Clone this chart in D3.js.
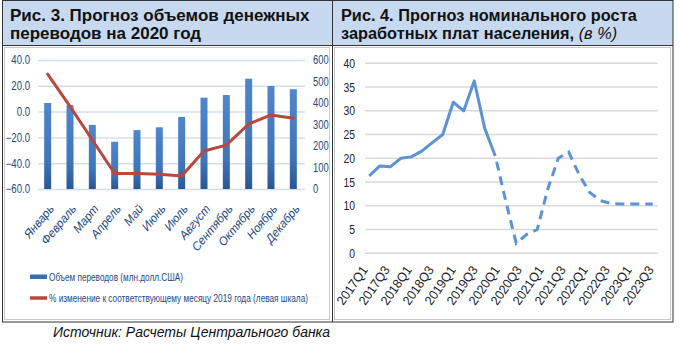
<!DOCTYPE html>
<html><head><meta charset="utf-8">
<script src="https://cdn.jsdelivr.net/npm/d3@7"></script>
<style>
html,body{margin:0;padding:0;background:#fff;}
svg{display:block;}
</style></head>
<body>
<script>
// ---- Data ----
const months = ["Январь","Февраль","Март","Апрель","Май","Июнь","Июль","Август","Сентябрь","Октябрь","Ноябрь","Декабрь"];
const transferVolume = [400, 390, 298, 220, 274, 287, 335, 425, 437, 513, 479, 464]; // млн.долл.США (right axis)
const changePct = [29, 4, -22, -48, -48, -48.5, -50, -30.5, -26, -9.6, -2.6, -5.2]; // % (left axis)
const leftTicks = [-60, -40, -20, 0, 20, 40];
const rightTicks = [0, 100, 200, 300, 400, 500, 600];

const quarters = [];
for (let y = 2017; y <= 2023; y++) for (let q = 1; q <= 4; q++) quarters.push(y + "Q" + q);
const wageGrowth = [16.3, 18.4, 18.2, 20.0, 20.3, 21.5, 23.3, 25.0, 31.8, 30.0, 36.3, 26.3, 20.5,
                    11.0, 2.1, 4.0, 5.0, 13.5, 20.0, 21.3, 16.5, 12.8, 11.1, 10.5, 10.4, 10.4, 10.4, 10.4];
const forecastStart = "2020Q1";
const wageTicks = [0, 5, 10, 15, 20, 25, 30, 35, 40];
const quarterLabels = quarters.filter((d, i) => i % 2 === 0);

const titleLeft = ["Рис. 3. Прогноз объемов денежных", "переводов на 2020 год"];
const titleRight1 = "Рис. 4. Прогноз номинального роста";
const titleRight2a = "заработных плат населения, ";
const titleRight2b = "(в %)";
const legendLabels = ["Объем переводов (млн.долл.США)", "% изменение к соответствующему месяцу 2019 года (левая шкала)"];
const sourceText = "Источник: Расчеты Центрального банка";

// ---- SVG ----
const W = 680, H = 344;
const svg = d3.select("body").append("svg").attr("width", W).attr("height", H);
const sans = "'Liberation Sans',Arial,sans-serif";
const navy = "#24487e";

// condense text horizontally (imitating a narrow font)
function condense(sel, f) {
  sel.each(function () {
    const L = this.getComputedTextLength();
    d3.select(this).attr("textLength", L * f).attr("lengthAdjust", "spacingAndGlyphs");
  });
}

const defs = svg.append("defs");
const grad = defs.append("linearGradient").attr("id", "barGrad").attr("x1", 0).attr("x2", 0).attr("y1", 0).attr("y2", 1);
grad.append("stop").attr("offset", "0%").attr("stop-color", "#4f86cc");
grad.append("stop").attr("offset", "70%").attr("stop-color", "#3f74b8");
grad.append("stop").attr("offset", "100%").attr("stop-color", "#2a5594");

// title bands
svg.append("rect").attr("x", 2).attr("y", 0).attr("width", 671).attr("height", 45).attr("fill", "#c6d9f0");
// inner light frames
svg.append("rect").attr("x", 4.5).attr("y", 47.5).attr("width", 325).attr("height", 272).attr("fill", "none").attr("stroke", "#c8c8c8");
svg.append("rect").attr("x", 334.5).attr("y", 47.5).attr("width", 336).attr("height", 272).attr("fill", "none").attr("stroke", "#c8c8c8");
// outer borders
svg.append("rect").attr("x", 2.5).attr("y", 0.5).attr("width", 670.5).attr("height", 321.5).attr("fill", "none").attr("stroke", "#333");
svg.append("line").attr("x1", 332.5).attr("x2", 332.5).attr("y1", 0).attr("y2", 322).attr("stroke", "#333");
svg.append("line").attr("x1", 2).attr("x2", 673).attr("y1", 45.5).attr("y2", 45.5).attr("stroke", "#333");

// titles
const tl = svg.append("text").attr("font-family", sans).attr("font-weight", "bold").attr("font-size", 17).attr("fill", "#111");
tl.append("tspan").attr("x", 10).attr("y", 21).text(titleLeft[0]);
tl.append("tspan").attr("x", 10).attr("y", 39).text(titleLeft[1]);
const trg = svg.append("g");
const tr = trg.append("text").attr("font-family", sans).attr("font-size", 17).attr("fill", "#111").attr("font-weight", "bold")
  .attr("x", 341).attr("y", 21).text(titleRight1);
const tr2 = trg.append("text").attr("font-family", sans).attr("font-size", 17).attr("fill", "#111").attr("x", 341).attr("y", 39);
tr2.append("tspan").attr("font-weight", "bold").text(titleRight2a);
tr2.append("tspan").attr("font-style", "italic").text(titleRight2b);
const fT = 296 / tr.node().getComputedTextLength();
trg.attr("transform", `translate(341,0) scale(${fT},1) translate(-341,0)`);

// ---- Left chart ----
const xL = d3.scaleBand().domain(months).range([36.5, 304.5]);
const yL = d3.scaleLinear().domain([-60, 40]).range([189, 60]);
const yR = d3.scaleLinear().domain([0, 600]).range([189, 60]);

const gL = svg.append("g");
gL.selectAll("line.grid").data(leftTicks).join("line")
  .attr("x1", 38).attr("x2", 305).attr("y1", d => yL(d) + 0.5).attr("y2", d => yL(d) + 0.5)
  .attr("stroke", "#d3deec").attr("stroke-width", 1.5);

const axL = gL.append("g").attr("transform", "translate(38,0)")
  .call(d3.axisLeft(yL).tickValues(leftTicks).tickFormat(d3.format(".1f")).tickSize(0).tickPadding(8));
axL.select(".domain").remove();
axL.selectAll("text").attr("font-family", sans).attr("font-size", 12).attr("fill", navy).call(condense, 0.8);

const axR = gL.append("g").attr("transform", "translate(305,0)")
  .call(d3.axisRight(yR).tickValues(rightTicks).tickFormat(d3.format("d")).tickSize(0).tickPadding(8));
axR.select(".domain").remove();
axR.selectAll("text").attr("font-family", sans).attr("font-size", 12).attr("fill", navy).call(condense, 0.78);

const bw = 7;
gL.selectAll("rect.bar").data(months).join("rect")
  .attr("x", d => xL(d) + xL.bandwidth() / 2 - bw / 2)
  .attr("width", bw)
  .attr("y", (d, i) => yR(transferVolume[i]))
  .attr("height", (d, i) => yR(0) - yR(transferVolume[i]))
  .attr("fill", "url(#barGrad)");

const lineL = d3.line().x((d, i) => xL(months[i]) + xL.bandwidth() / 2).y(d => yL(d));
gL.append("path").attr("d", lineL(changePct)).attr("fill", "none").attr("stroke", "#b8473f")
  .attr("stroke-width", 3).attr("stroke-linejoin", "round").attr("stroke-linecap", "round");

const axB = gL.append("g").attr("transform", "translate(0,192)")
  .call(d3.axisBottom(xL).tickSize(0).tickPadding(0));
axB.select(".domain").remove();
axB.selectAll("text").attr("font-family", sans).attr("font-size", 12).attr("font-style", "italic").attr("fill", navy)
  .attr("text-anchor", "end").attr("dy", 0).attr("dx", 0)
  .attr("transform", "translate(7,17) rotate(-50)").call(condense, 0.97);

// legend
const lg = svg.append("g");
lg.append("rect").attr("x", 30).attr("y", 274.5).attr("width", 17).attr("height", 4.5).attr("fill", "#3a6fb5");
lg.append("text").attr("x", 49).attr("y", 281).attr("font-family", sans).attr("font-size", 11.5).attr("fill", navy)
  .attr("textLength", 134).attr("lengthAdjust", "spacingAndGlyphs").text(legendLabels[0]);
lg.append("line").attr("x1", 30).attr("x2", 47).attr("y1", 298).attr("y2", 298).attr("stroke", "#b8473f").attr("stroke-width", 3.5);
lg.append("text").attr("x", 49).attr("y", 302).attr("font-family", sans).attr("font-size", 11.5).attr("fill", navy)
  .attr("textLength", 259).attr("lengthAdjust", "spacingAndGlyphs").text(legendLabels[1]);

// ---- Right chart ----
const xQ = d3.scaleBand().domain(quarters).range([364, 658]);
const xQlab = d3.scaleBand().domain(quarters).range([357, 665]);
const yW = d3.scaleLinear().domain([0, 40]).range([253.3, 63.3]);
const gR = svg.append("g");
gR.selectAll("line.grid").data(wageTicks).join("line")
  .attr("x1", 365).attr("x2", 658).attr("y1", d => yW(d)).attr("y2", d => yW(d))
  .attr("stroke", "#d9d9d9").attr("stroke-width", 1.5);
const axW = gR.append("g").attr("transform", "translate(365,0)")
  .call(d3.axisLeft(yW).tickValues(wageTicks).tickSize(0).tickPadding(10));
axW.select(".domain").remove();
axW.selectAll("text").attr("font-family", sans).attr("font-size", 13).attr("fill", "#222").call(condense, 0.8);

const axQ = gR.append("g").attr("transform", "translate(0,256)")
  .call(d3.axisBottom(xQlab).tickValues(quarterLabels).tickSize(0).tickPadding(0));
axQ.select(".domain").remove();
axQ.selectAll("text").attr("font-family", sans).attr("font-size", 13).attr("fill", "#222")
  .attr("text-anchor", "end").attr("dy", 0)
  .attr("transform", "translate(6,14) rotate(-55)").call(condense, 0.95);

const cx = q => xQ(q) + xQ.bandwidth() / 2;
const fi = quarters.indexOf(forecastStart);
const lineW = d3.line().x((d, i) => cx(quarters[i])).y(d => yW(d)).defined(d => d != null);
const actual = wageGrowth.map((d, i) => i <= fi ? d : null);
const forecast = wageGrowth.map((d, i) => i >= fi ? d : null);
gR.append("path").attr("d", lineW(actual)).attr("fill", "none").attr("stroke", "#5b93d3")
  .attr("stroke-width", 3).attr("stroke-linejoin", "round");
gR.append("path").attr("d", lineW(forecast)).attr("fill", "none").attr("stroke", "#5b93d3")
  .attr("stroke-width", 3).attr("stroke-dasharray", "9,6").attr("stroke-dashoffset", -6);

// source
svg.append("text").attr("x", 53).attr("y", 337).attr("font-family", sans).attr("font-style", "italic")
  .attr("font-size", 14).attr("fill", "#111").text(sourceText);
</script>
</body></html>
